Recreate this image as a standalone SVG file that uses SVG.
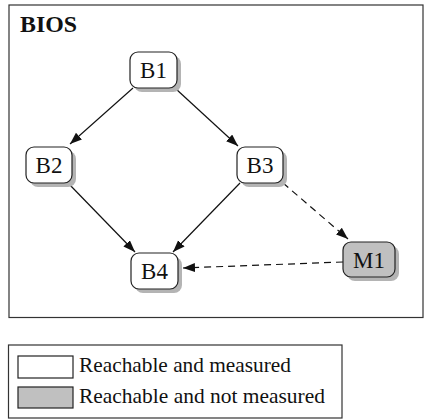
<svg xmlns="http://www.w3.org/2000/svg" width="424" height="419" viewBox="0 0 424 419">
<style>
.frame{fill:#fff;stroke:#333;stroke-width:1.2}
.node{fill:#fff;stroke:#222;stroke-width:1.2}
.gray{fill:#c0c0c0}
.shadow{fill:#b4b4b4;stroke:none}
text{font-family:'Liberation Serif','DejaVu Serif','Times New Roman',Times,serif;fill:#111}
.lbl{font-size:23px;text-anchor:middle}
.title{font-size:23px;font-weight:bold}
.leg{font-size:21px}
.edge{stroke:#111;stroke-width:1.2;fill:none;marker-end:url(#ah)}
.dash{stroke-dasharray:7 5}
</style>
<defs>
<marker id="ah" markerUnits="userSpaceOnUse" markerWidth="13" markerHeight="10" refX="12" refY="4.5" orient="auto">
<path d="M0,0 L12,4.5 L0,9 z" fill="#111"/>
</marker>
</defs>
<rect class="frame" x="9" y="5" width="414" height="312.5"/>
<text class="title" x="20" y="32" textLength="57" lengthAdjust="spacingAndGlyphs">BIOS</text>
<g id="connectors">
<line class="edge" x1="133" y1="88" x2="70" y2="144"/>
<line class="edge" x1="176" y1="89" x2="238" y2="146"/>
<line class="edge" x1="68" y1="183" x2="135" y2="252"/>
<line class="edge" x1="240" y1="183" x2="173" y2="252"/>
<line class="edge dash" x1="283" y1="183" x2="348" y2="239"/>
<line class="edge dash" x1="343" y1="262" x2="183" y2="268"/>
</g>
<g id="B1">
<rect class="shadow" x="134" y="56" width="47" height="36" rx="8"/>
<rect class="node" x="130" y="52" width="47" height="36" rx="8"/>
<text class="lbl" x="153.5" y="78">B1</text>
</g>
<g id="B2">
<rect class="shadow" x="30" y="151" width="46" height="36" rx="8"/>
<rect class="node" x="26" y="147" width="46" height="36" rx="8"/>
<text class="lbl" x="49" y="173">B2</text>
</g>
<g id="B3">
<rect class="shadow" x="241" y="151" width="46" height="36" rx="8"/>
<rect class="node" x="237" y="147" width="46" height="36" rx="8"/>
<text class="lbl" x="260" y="173">B3</text>
</g>
<g id="B4">
<rect class="shadow" x="135" y="257" width="47" height="36" rx="8"/>
<rect class="node" x="131" y="253" width="47" height="36" rx="8"/>
<text class="lbl" x="154.5" y="279">B4</text>
</g>
<g id="M1">
<rect class="shadow" x="347" y="246" width="52" height="35" rx="8"/>
<rect class="node gray" x="343" y="242" width="52" height="35" rx="8"/>
<text class="lbl" x="369" y="268">M1</text>
</g>
<g id="legend">
<rect class="frame" x="8.5" y="345" width="333.5" height="73"/>
<rect class="node" x="18" y="356" width="55" height="22" rx="0"/>
<rect class="node gray" x="18" y="387" width="55" height="21" rx="0"/>
<text class="leg" x="79" y="372" textLength="212" lengthAdjust="spacingAndGlyphs">Reachable and measured</text>
<text class="leg" x="79" y="403" textLength="246" lengthAdjust="spacingAndGlyphs">Reachable and not measured</text>
</g>
</svg>
